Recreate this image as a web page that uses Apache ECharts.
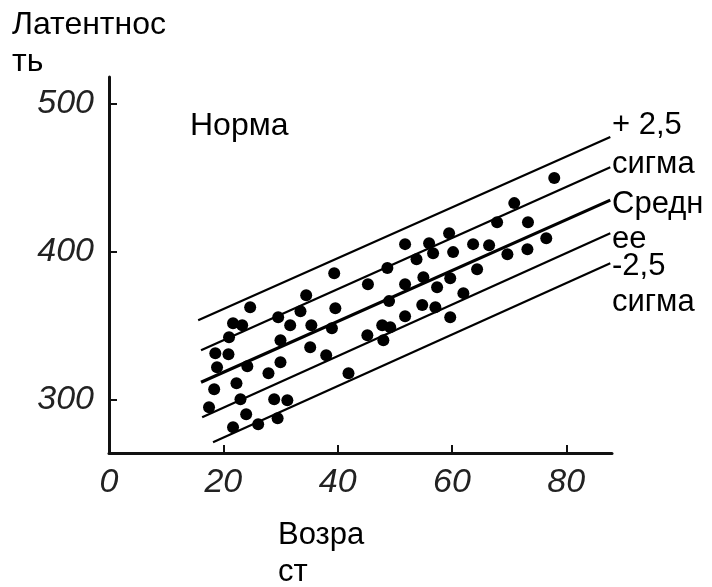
<!DOCTYPE html>
<html>
<head>
<meta charset="utf-8">
<script src="https://cdn.jsdelivr.net/npm/echarts@6/dist/echarts.min.js"></script>
<style>
  html, body { margin: 0; padding: 0; background: #fff; }
  #chart { width: 712px; height: 587px; }
</style>
</head>
<body>
<div id="chart"></div>
<script>
// age (years) and latency values
const ages = [
  24.7, 34.5, 29.6, 33.5, 31.7, 21.7, 23.3, 21.0, 35.4, 39.0,
  39.6, 30.0, 18.6, 20.9, 18.9, 24.2, 35.2, 30.0, 27.9, 38.0,
  18.4, 22.3, 23.0, 17.5, 28.9, 31.2, 24.0, 21.7, 26.1, 29.5,
  51.8, 56.0, 56.7, 59.5, 60.2, 63.7, 53.8, 48.7, 39.4, 45.3,
  51.8, 55.0, 59.7, 57.4, 64.4, 49.0, 54.8, 57.1, 62.0, 51.8,
  59.7, 47.8, 49.2, 45.2, 48.0, 41.9,
  77.9, 70.9, 67.9, 73.3, 76.5, 66.5, 69.7, 73.2
];
const latency = [
  362.5, 370.6, 355.7, 359.8, 350.3, 351.7, 350.3, 342.2, 350.3, 348.3,
  361.8, 340.2, 331.4, 330.7, 322.0, 322.6, 335.5, 325.3, 317.9, 330.1,
  307.1, 311.1, 300.3, 294.9, 300.3, 299.7, 290.2, 281.4, 283.4, 287.5,
  405.1, 405.7, 399.0, 412.5, 399.7, 405.1, 394.9, 388.9, 385.5, 378.0,
  378.0, 382.8, 382.1, 376.0, 388.2, 366.6, 363.9, 362.5, 372.0, 356.4,
  355.7, 350.3, 349.0, 343.6, 340.2, 317.9,
  449.7, 432.8, 419.9, 419.9, 409.1, 404.4, 398.3, 401.7
];

// band lines: [startAge, startLatency, endAge, endLatency]
const upperOuter = [15.6, 353.7, 87.7, 477.4];
const upperInner = [16.1, 333.4, 87.7, 457.1];
const meanLine = [16.1, 311.8, 87.7, 434.8];
const lowerInner = [16.3, 288.2, 87.7, 412.5];
const lowerOuter = [18.2, 271.3, 87.7, 392.2];

const xTicks = [0, 20, 40, 60, 80];
const yTicks = [300, 400, 500];

const chart = echarts.init(document.getElementById("chart"));

const font = "'Liberation Sans', Arial, sans-serif";

function bandSeries(seg, width) {
  return {
    type: "line",
    data: [[seg[0], seg[1]], [seg[2], seg[3]]],
    showSymbol: false,
    silent: true,
    lineStyle: { color: "#000", width: width },
    z: 2,
  };
}

function label(text, x, y, size, lineHeight) {
  return {
    type: "text",
    left: x,
    top: y,
    style: {
      text: text,
      font: size + "px " + font,
      lineHeight: lineHeight,
      fill: "#000",
    },
  };
}

const option = {
  backgroundColor: "#fff",
  animation: false,
  grid: { left: 109, right: 100, top: 77, bottom: 134, containLabel: false },
  xAxis: {
    type: "value",
    min: 0,
    max: 88,
    axisLine: { lineStyle: { color: "#111", width: 3 } },
    axisTick: { inside: true, length: 8, lineStyle: { color: "#111", width: 2 }, customValues: xTicks },
    axisLabel: {
      customValues: xTicks,
      margin: 13,
      color: "#222",
      fontSize: 34,
      fontStyle: "italic",
      fontFamily: font,
    },
    splitLine: { show: false },
  },
  yAxis: {
    type: "value",
    min: 264,
    max: 518,
    axisLine: { show: true, lineStyle: { color: "#111", width: 3 } },
    axisTick: { show: true, inside: true, length: 8, lineStyle: { color: "#111", width: 2 }, customValues: yTicks },
    axisLabel: {
      customValues: yTicks,
      margin: 15,
      color: "#222",
      fontSize: 34,
      fontStyle: "italic",
      fontFamily: font,
    },
    splitLine: { show: false },
  },
  series: [
    bandSeries(upperOuter, 2.2),
    bandSeries(upperInner, 2.2),
    bandSeries(meanLine, 3.2),
    bandSeries(lowerInner, 2.2),
    bandSeries(lowerOuter, 2.2),
    {
      type: "scatter",
      data: ages.map((a, i) => [a, latency[i]]),
      symbolSize: 12,
      itemStyle: { color: "#000", opacity: 1 },
      z: 3,
    },
  ],
  graphic: [
    label("Латентнос\nть", 12, 7, 32, 37),
    label("Норма", 190, 110, 32, 32),
    label("+ 2,5\nсигма", 612, 106, 31, 39),
    label("Средн\nее", 612, 187, 31, 35),
    label("-2,5\nсигма", 612, 248, 31, 36),
    label("Возра\nст", 278, 517, 31, 37),
  ],
};

chart.setOption(option);
</script>
</body>
</html>
